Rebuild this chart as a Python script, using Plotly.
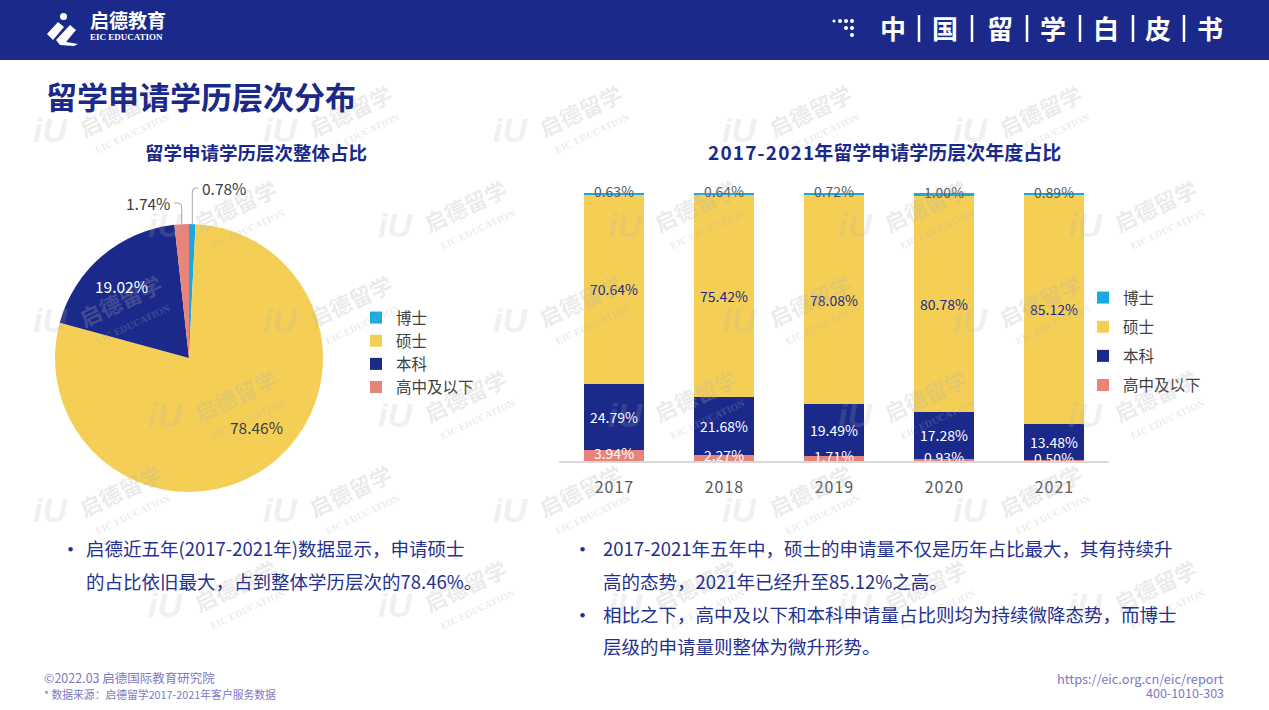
import math
import plotly.graph_objects as go

W, H = 1269, 710
NAVY = "#1B2A8A"
YELLOW = "#F5CF55"
PINK = "#E8847A"
CYAN = "#19A9E1"
FONT = "Noto Sans CJK SC"

# overall share (pie)
levels = ["博士", "硕士", "本科", "高中及以下"]
overall = [0.78, 78.46, 19.02, 1.74]

# yearly share (stacked bars)
years = ["2017", "2018", "2019", "2020", "2021"]
high_school = [3.94, 2.27, 1.71, 0.93, 0.50]
bachelor = [24.79, 21.68, 19.49, 17.28, 13.48]
master = [70.64, 75.42, 78.08, 80.78, 85.12]
doctor = [0.63, 0.64, 0.72, 1.00, 0.89]


def px(x):
    return x / W


def py(y):
    return 1 - y / H


HS = "\u200a"  # hair space for the spaced-out digits

fig = go.Figure()

# pie geometry in pixels (domain is square so the pie fills it)
CX, CY, R = 189, 358, 134
fig.add_trace(go.Pie(
    labels=levels, values=overall, sort=False, direction="clockwise", rotation=0,
    marker=dict(colors=[CYAN, YELLOW, NAVY, PINK], line=dict(width=0)),
    textinfo="none",
    domain=dict(x=[px(CX - R), px(CX + R)], y=[py(CY + R), py(CY - R)]),
    hoverinfo="label+percent", legend="legend",
))

bar_series = [
    ("高中及以下", high_school, PINK, None, 4),
    ("本科", bachelor, NAVY, "white", 3),
    ("硕士", master, YELLOW, NAVY, 2),
    ("博士", doctor, CYAN, None, 1),
]
for name, vals, col, tcol, rank in bar_series:
    fig.add_trace(go.Bar(
        x=years, y=vals, name=name, legendgroup=name, legendrank=rank,
        marker=dict(color=col, line=dict(width=0)),
        text=[f"{v:.2f}%" for v in vals] if tcol else None,
        textposition="inside" if tcol else "none",
        insidetextanchor="middle", textangle=0,
        textfont=dict(size=14, color=tcol or "white", family=FONT),
        legend="legend2",
    ))

# thin-segment labels drawn on top of the stack
top = [a + b + c + d / 2 for a, b, c, d in zip(high_school, bachelor, master, doctor)]
fig.add_trace(go.Scatter(
    x=years, y=[v / 2 for v in high_school], mode="text",
    text=[f"{v:.2f}%" for v in high_school],
    textfont=dict(size=14, color="white", family=FONT),
    showlegend=False, hoverinfo="skip", cliponaxis=False,
))
fig.add_trace(go.Scatter(
    x=years, y=top, mode="text",
    text=[f"{v:.2f}%" for v in doctor],
    textfont=dict(size=14, color="#595959", family=FONT),
    showlegend=False, hoverinfo="skip", cliponaxis=False,
))

fig.update_layout(
    width=W, height=H, margin=dict(l=0, r=0, t=0, b=0),
    paper_bgcolor="white", plot_bgcolor="rgba(0,0,0,0)",
    font=dict(family=FONT, color="#404040"),
    barmode="stack", bargap=0.45,
    uniformtext=dict(mode="show", minsize=13),
    xaxis=dict(domain=[px(559), px(1109)], showline=True, linecolor="#d9d9d9", linewidth=1.5,
               ticks="outside", ticklen=11, tickcolor="rgba(0,0,0,0)",
               tickvals=years, ticktext=[HS.join(y) for y in years],
               tickfont=dict(size=16, color="#595959"), showgrid=False, fixedrange=True),
    yaxis=dict(domain=[py(461), py(193)], range=[0, 100], visible=False, fixedrange=True),
    legend=dict(x=px(356), y=py(301), xanchor="left", yanchor="top",
                font=dict(size=15.5, color="#404040"), bgcolor="rgba(0,0,0,0)"),
    legend2=dict(x=px(1083), y=py(281), xanchor="left", yanchor="top",
                 traceorder="grouped", tracegroupgap=6,
                 font=dict(size=15.5, color="#404040"), bgcolor="rgba(0,0,0,0)"),
    showlegend=True,
)

shapes = [
    dict(type="rect", xref="paper", yref="paper", x0=0, x1=1, y0=py(60), y1=1,
         fillcolor=NAVY, line=dict(width=0), layer="below"),
]


def pshape(path, **kw):
    d = dict(type="path", xref="paper", yref="paper", path=path)
    d.update(kw)
    shapes.append(d)


def P(x, y):
    return f"{px(x)},{py(y)}"


# logo mark (simplified)
pshape(f"M {P(47, 34)} L {P(58, 22)} L {P(64, 27)} L {P(53, 40)} Z", fillcolor="white", line=dict(width=0))
pshape(f"M {P(56, 40)} L {P(70, 25)} L {P(76, 30)} L {P(66, 42)} L {P(78, 44)} L {P(74, 46)} L {P(60, 45)} Z",
       fillcolor="white", line=dict(width=0))
shapes.append(dict(type="circle", xref="paper", yref="paper",
                   x0=px(60), x1=px(67), y0=py(20), y1=py(13), fillcolor="white", line=dict(width=0)))
# dot pattern next to header title
for dx, dy, r in [(834, 21, 1.5), (840, 21, 2), (846, 21, 2), (852, 21, 2), (846, 28, 2), (852, 28, 2), (852, 35, 2)]:
    shapes.append(dict(type="circle", xref="paper", yref="paper",
                       x0=px(dx - r), x1=px(dx + r), y0=py(dy + r), y1=py(dy - r),
                       fillcolor="white", line=dict(width=0)))
# separators in the header title
for sx in [919, 972, 1027, 1080, 1133, 1184]:
    shapes.append(dict(type="line", xref="paper", yref="paper", x0=px(sx), x1=px(sx),
                       y0=py(15), y1=py(42), line=dict(color="white", width=2.5)))

# leader lines for the two thin pie slices
total = sum(overall)


def edge(cum_mid):
    a = math.radians(cum_mid / total * 360)
    return CX + R * math.sin(a), CY - R * math.cos(a)


ex0, ey0 = edge(overall[0] / 2)
ex3, ey3 = edge(total - overall[3] / 2)
pshape(f"M {P(ex0, ey0)} L {P(ex0, 192)} Q {P(ex0, 188)} {P(ex0 + 4, 188)} L {P(198, 188)}",
       line=dict(color="#a6a6a6", width=1))
pshape(f"M {P(ex3, ey3)} L {P(ex3, 207)} Q {P(ex3, 203)} {P(ex3 - 4, 203)} L {P(174, 203)}",
       line=dict(color="#a6a6a6", width=1))
fig.update_layout(shapes=shapes)

ann = []


def text(x, y, s, size, color, bold=False, xanchor="left", family=FONT, angle=0):
    ann.append(dict(x=px(x), y=py(y), xref="paper", yref="paper", text=f"<b>{s}</b>" if bold else s,
                    showarrow=False, xanchor=xanchor, yanchor="middle", textangle=angle,
                    font=dict(size=size, color=color, family=family)))


# watermarks
WM = "rgba(175,175,175,0.26)"
for row in range(6):
    for col in range(6):
        x0 = 60 + col * 230 + (row % 2) * 115
        y0 = 110 + row * 95
        if x0 > 1200:
            continue
        text(x0 + 60, y0, "启德留学", 22, WM, bold=True, xanchor="center", angle=-25)
        text(x0 + 72, y0 + 24, "EIC EDUCATION", 10, WM, bold=True, xanchor="center",
             family="Liberation Serif", angle=-25)
        text(x0 - 10, y0 + 20, "<i>iU</i>", 34, "rgba(175,175,175,0.2)", bold=True,
             xanchor="center", family="Liberation Sans")

# pie value labels
text(200, 188, f"{overall[0]:.2f}%", 15.5, "#404040")
text(172, 203, f"{overall[3]:.2f}%", 15.5, "#404040", xanchor="right")
text(256, 427, f"{overall[1]:.2f}%", 15.5, "#404040", xanchor="center")
text(121, 286, f"{overall[2]:.2f}%", 15.5, "white", xanchor="center")

# header
text(88, 20, "启德教育", 19, "white", bold=True)
text(88, 37, "EIC EDUCATION", 9, "white", bold=True, family="Liberation Serif")
for cx, ch in zip([893, 945, 1000, 1053, 1106, 1158, 1210], "中国留学白皮书"):
    text(cx, 28, ch, 26, "white", bold=True, xanchor="center")

text(44, 95, "留学申请学历层次分布", 31, NAVY, bold=True)
text(256, 152, "留学申请学历层次整体占比", 18.5, NAVY, bold=True, xanchor="center")
text(884, 152, HS.join("2017-2021") + "年留学申请学历层次年度占比", 19, NAVY, bold=True, xanchor="center")

BT = "#24318f"
text(58, 548, "•", 21, BT)
text(84, 548, "启德近五年(2017-2021年)数据显示，申请硕士", 18.5, BT)
text(84, 581, "的占比依旧最大，占到整体学历层次的78.46%。", 18.5, BT)
text(570, 548, "•", 21, BT)
text(601, 548, "2017-2021年五年中，硕士的申请量不仅是历年占比最大，其有持续升", 18.5, BT)
text(601, 581, "高的态势，2021年已经升至85.12%之高。", 18.5, BT)
text(570, 614, "•", 21, BT)
text(601, 614, "相比之下，高中及以下和本科申请量占比则均为持续微降态势，而博士", 18.5, BT)
text(601, 646, "层级的申请量则整体为微升形势。", 18.5, BT)

FT = "#7b79c2"
text(42, 677, "©2022.03 启德国际教育研究院", 12.5, FT)
text(42, 694, "* 数据来源：启德留学2017-2021年客户服务数据", 10.8, FT)
text(1226, 678, "https://eic.org.cn/eic/report", 12.8, FT, xanchor="right")
text(1226, 692, "400-1010-303", 12.5, FT, xanchor="right")

fig.update_layout(annotations=ann)
fig.write_html("out.html", config={"displayModeBar": False},
               post_script="document.body.style.margin='0px';")
